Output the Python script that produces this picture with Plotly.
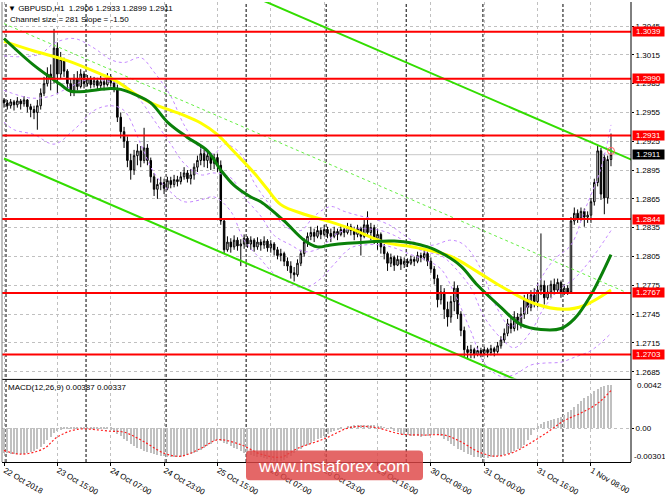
import plotly.graph_objects as go

W, H = 665, 499
ML, MR, MT, MB = 2, 34, 2, 18
PW = W - ML - MR
PH = H - MT - MB


def pxx(px):
    return (px - ML) / PW


def pxy(py):
    return (H - MB - py) / PH


FONT = "Liberation Sans"

# ---------------- candles (price x 10000) ----------------
closes = [12965, 12962, 12966, 12963, 12967, 12964, 12968, 12961, 12958, 12955,
          12962, 12975, 12985, 12995, 12990, 13022, 12995, 13010, 12998, 12985,
          12978, 12990, 12982, 12995, 12985, 12990, 12984, 12988, 12983, 12987,
          12984, 12992, 12986, 12980, 12950, 12935, 12925, 12905, 12895, 12910,
          12915, 12905, 12918, 12905, 12888, 12875, 12880, 12882, 12876, 12884,
          12880, 12885, 12883, 12888, 12892, 12886, 12890, 12898, 12905, 12912,
          12905, 12910, 12902, 12908, 12900, 12842, 12812, 12820, 12815, 12822,
          12816, 12818, 12824, 12818, 12822, 12815, 12820, 12817, 12821, 12814,
          12818, 12812, 12806, 12808, 12800, 12795, 12788, 12786, 12798, 12808,
          12820, 12826, 12830, 12826, 12832, 12828, 12833, 12829, 12826, 12831,
          12828, 12833, 12830, 12836, 12832, 12828, 12834, 12826, 12838, 12830,
          12835, 12824, 12828, 12815, 12808, 12798, 12804, 12796, 12802, 12797,
          12800, 12798, 12802, 12800, 12806, 12804, 12808, 12800, 12792, 12782,
          12760, 12768, 12750, 12742, 12758, 12772, 12745, 12728, 12708, 12705,
          12708, 12703, 12707, 12704, 12708, 12705, 12709, 12706, 12712, 12718,
          12725, 12735, 12730, 12742, 12735, 12745, 12760, 12752, 12765, 12758,
          12770, 12775, 12762, 12768, 12776, 12770, 12778, 12768, 12772, 12768,
          12842, 12850, 12845, 12852, 12846, 12848, 12862, 12882, 12915, 12870,
          12866, 12906, 12911]
highs = [12970, 12968, 12969, 12968, 12971, 12969, 12972, 12969, 12964, 12962,
         12968, 12980, 12992, 13002, 13005, 13042, 13028, 13018, 13012, 13000,
         12990, 12995, 12998, 13000, 12998, 12994, 12993, 12992, 12991, 12993,
         12990, 12996, 12995, 12990, 12984, 12955, 12940, 12930, 12912, 12916,
         12922, 12920, 12939, 12922, 12908, 12892, 12886, 12888, 12886, 12888,
         12888, 12890, 12889, 12893, 12898, 12895, 12896, 12902, 12910, 12920,
         12916, 12915, 12913, 12912, 12912, 12905, 12845, 12826, 12824, 12827,
         12825, 12823, 12828, 12826, 12826, 12824, 12825, 12823, 12826, 12823,
         12822, 12820, 12815, 12813, 12810, 12804, 12800, 12794, 12802, 12812,
         12824, 12830, 12836, 12834, 12837, 12835, 12838, 12836, 12834, 12836,
         12834, 12838, 12837, 12840, 12839, 12836, 12838, 12836, 12844, 12852,
         12840, 12838, 12834, 12830, 12818, 12810, 12808, 12806, 12806, 12805,
         12804, 12803, 12806, 12805, 12810, 12809, 12812, 12810, 12804, 12795,
         12786, 12775, 12772, 12758, 12764, 12779, 12775, 12748, 12732, 12712,
         12713, 12710, 12712, 12710, 12711, 12710, 12713, 12711, 12716, 12722,
         12730, 12740, 12742, 12748, 12746, 12752, 12765, 12768, 12770, 12772,
         12778, 12829, 12780, 12775, 12780, 12782, 12782, 12780, 12776, 12775,
         12846, 12856, 12854, 12856, 12855, 12852, 12866, 12886, 12920, 12918,
         12912, 12910, 12933]
lows = [12960, 12958, 12959, 12957, 12960, 12958, 12961, 12955, 12950, 12948,
        12937, 12958, 12972, 12982, 12978, 12985, 12975, 12990, 12992, 12978,
        12972, 12972, 12978, 12980, 12980, 12982, 12980, 12981, 12979, 12980,
        12978, 12982, 12982, 12976, 12945, 12928, 12918, 12898, 12885, 12890,
        12900, 12898, 12902, 12900, 12882, 12868, 12865, 12874, 12870, 12874,
        12876, 12877, 12878, 12880, 12885, 12882, 12880, 12885, 12893, 12900,
        12898, 12897, 12895, 12896, 12893, 12838, 12808, 12810, 12809, 12812,
        12811, 12795, 12813, 12814, 12812, 12810, 12812, 12811, 12813, 12810,
        12809, 12806, 12802, 12800, 12795, 12790, 12782, 12779, 12784, 12795,
        12805, 12815, 12822, 12820, 12824, 12823, 12826, 12824, 12820, 12824,
        12822, 12826, 12825, 12828, 12827, 12822, 12825, 12806, 12824, 12826,
        12822, 12818, 12812, 12808, 12802, 12790, 12794, 12790, 12795, 12791,
        12793, 12794, 12796, 12795, 12798, 12799, 12801, 12795, 12788, 12776,
        12752, 12755, 12740, 12732, 12736, 12748, 12740, 12722, 12700, 12698,
        12699, 12699, 12701, 12700, 12702, 12700, 12702, 12701, 12704, 12709,
        12715, 12722, 12725, 12727, 12728, 12730, 12740, 12745, 12748, 12752,
        12752, 12765, 12755, 12760, 12762, 12765, 12766, 12762, 12765, 12765,
        12766, 12838, 12840, 12842, 12836, 12840, 12840, 12858, 12878, 12864,
        12849, 12860, 12899]
first_open = 12968
open_gaps = {180: 12908}

# ---------------- indicator lines (read points: bar, price x 10000) ----------------
ma_green_bar = [0, 9, 17, 20, 32, 35, 39, 44, 49, 55, 61, 65, 69, 74, 77, 84, 90, 94,
                98, 109, 117, 127, 132, 137, 142, 149, 155, 161, 167, 171, 176, 182]
ma_green_val = [13032, 13004, 12984, 12977, 12980, 12979, 12974, 12965, 12945, 12929,
                12915, 12895, 12879, 12867, 12862, 12842, 12822, 12815, 12817, 12820,
                12821, 12815, 12807, 12795, 12775, 12752, 12734, 12729, 12730, 12740,
                12765, 12807]
ma_yellow_bar = [0, 9, 19, 29, 34, 39, 44, 54, 59, 64, 69, 75, 79, 83, 90, 97, 104,
                 114, 124, 134, 142, 149, 159, 168, 174, 182]
ma_yellow_val = [13029, 13019, 13009, 12995, 12987, 12975, 12965, 12952, 12944, 12932,
                 12914, 12892, 12875, 12859, 12849, 12842, 12834, 12820, 12814, 12805,
                 12789, 12774, 12756, 12750, 12754, 12770]

bb_mid_bar = [0, 8, 14, 20, 26, 32, 36, 41, 45, 50, 54, 59, 63, 68, 72, 77, 81, 86, 90,
              95, 99, 104, 108, 113, 117, 122, 126, 131, 135, 140, 144, 149, 153, 158,
              162, 167, 171, 176, 182]
bb_mid_val = [12978, 12970, 12972, 12982, 12990, 12987, 12984, 12967, 12947, 12922,
              12902, 12890, 12892, 12887, 12867, 12847, 12827, 12817, 12810, 12814,
              12827, 12834, 12834, 12832, 12827, 12817, 12810, 12806, 12794, 12772,
              12742, 12720, 12710, 12727, 12752, 12772, 12782, 12802, 12832]
bb_up_bar = [0, 5, 11, 15, 21, 27, 32, 36, 41, 45, 50, 54, 59, 63, 66, 71, 75, 80, 84,
             89, 93, 98, 102, 107, 111, 116, 120, 125, 129, 134, 138, 143, 147, 152,
             156, 161, 165, 170, 174, 179, 182]
bb_up_val = [13014, 13013, 13016, 13027, 13032, 13022, 13010, 13007, 13012, 12997,
             12972, 12942, 12917, 12912, 12922, 12912, 12882, 12857, 12837, 12832,
             12847, 12857, 12852, 12847, 12844, 12837, 12827, 12817, 12817, 12822,
             12817, 12792, 12757, 12732, 12747, 12782, 12802, 12817, 12852, 12897,
             12942]
bb_lo_bar = [0, 3, 9, 15, 21, 27, 32, 36, 41, 45, 50, 54, 59, 63, 68, 72, 77, 81, 86,
             90, 95, 99, 104, 108, 113, 117, 122, 126, 131, 135, 140, 144, 149, 153,
             158, 162, 167, 171, 176, 182]
bb_lo_val = [12945, 12937, 12932, 12922, 12937, 12957, 12962, 12957, 12922, 12892,
             12872, 12862, 12864, 12867, 12852, 12822, 12802, 12787, 12777, 12772,
             12782, 12797, 12814, 12817, 12817, 12814, 12807, 12802, 12792, 12767,
             12727, 12694, 12680, 12682, 12692, 12694, 12695, 12700, 12707, 12725]

# linear regression channel: lower line value at bar 0, slope per bar, width (pips)
chan_lower_start = 12907
chan_slope = -1.50
chan_size = 281
chan_end_bar = 189

# horizontal levels
red_levels = [1.3039, 1.2990, 1.2931, 1.2844, 1.2767, 1.2703]
last_price = 1.2911
price_ticks = [1.3045, 1.3015, 1.2985, 1.2955, 1.2925, 1.2895, 1.2865, 1.2835,
               1.2805, 1.2775, 1.2745, 1.2715, 1.2685]

# time axis
time_tick_bars = [0, 16, 32, 48, 64, 80, 96, 112, 128, 144, 160, 176]
time_tick_text = ["22 Oct 2018", "23 Oct 15:00", "24 Oct 07:00", "24 Oct 23:00",
                  "25 Oct 15:00", "26 Oct 07:00", "26 Oct 23:00", "29 Oct 16:00",
                  "30 Oct 08:00", "31 Oct 00:00", "31 Oct 16:00", "1 Nov 08:00"]
day_start_bars = [1, 25, 49, 73, 97, 121, 144, 168]

# MACD (x 1e-5)
macd_hist = [-223, -226, -228, -230, -231, -231, -228, -224, -218, -206,
             -190, -170, -140, -110, -80, -45, -25, -15, -10,
             -8, -6, -5, -6, -8, -9, -10, -9, -8, -9, -10, -11, -12, -14,
             -30, -51, -75, -100, -120, -140, -160, -175, -190, -205,
             -215, -225, -235, -242, -249, -252, -255, -257,
             -258, -257, -255, -250, -245, -235, -225, -215,
             -195, -180, -160, -140, -120, -103,
             -115, -130, -146, -160, -175, -190, -206,
             -220, -232, -242, -249, -255, -262, -270, -278, -286, -294, -301,
             -295, -285, -270, -250, -225, -206,
             -185, -165, -148, -132, -120,
             -100, -85, -70, -51,
             -40, -28, -18, -9,
             0, 10, 18, 24,
             26, 28, 28, 27, 26, 24, 20, 15,
             8, 0, -10, -25, -40, -55,
             -62, -66, -70, -73, -76, -77, -75, -70,
             -62, -58, -60,
             -75, -95, -120, -145, -165,
             -185, -200, -215, -231, -245,
             -255, -262, -265, -266, -265,
             -262, -258, -254, -250, -245,
             -235, -220, -205, -190, -180,
             -150, -110, -60, -20, 15,
             35, 50, 62, 70, 77, 90,
             100, 120, 140, 163, 185,
             215, 240, 270, 290, 305, 330, 350, 365, 378, 385, 387]
signal_bar = [0, 5, 12, 16, 22, 32, 36, 42, 48, 53, 59, 64, 71, 77, 83, 88, 96, 104,
              111, 119, 126, 132, 137, 142, 147, 152, 157, 163, 168, 173, 178, 182]
signal_val = [-197, -231, -180, -77, -9, -26, -34, -120, -223, -249, -180, -103, -146,
              -231, -257, -180, -94, 9, 9, -51, -60, -60, -120, -206, -249, -223, -146,
              -34, 69, 137, 223, 337]
macd_max = 0.0042
macd_min = -0.00301

# ---------------- build ----------------
n = len(closes)
bars = list(range(n))
opens = [first_open] + closes[:-1]
for k, v in open_gaps.items():
    opens[k] = v
o = [v / 1e4 for v in opens]
c = [v / 1e4 for v in closes]
h = [max(a, b, d) / 1e4 for a, b, d in zip(highs, opens, closes)]
l = [min(a, b, d) / 1e4 for a, b, d in zip(lows, opens, closes)]

fig = go.Figure()

fig.add_trace(go.Candlestick(
    x=bars, open=o, high=h, low=l, close=c,
    increasing=dict(line=dict(color="black", width=1), fillcolor="white"),
    decreasing=dict(line=dict(color="black", width=1), fillcolor="black"),
    whiskerwidth=0, hoverinfo="skip", xaxis="x", yaxis="y"))

violet = "#c488ff"
for bx, bv in [(bb_up_bar, bb_up_val), (bb_mid_bar, bb_mid_val), (bb_lo_bar, bb_lo_val)]:
    fig.add_trace(go.Scatter(x=bx, y=[v / 1e4 for v in bv], mode="lines",
                             line=dict(color=violet, width=1, dash="3px,3px", shape="spline"),
                             hoverinfo="skip", xaxis="x", yaxis="y"))

fig.add_trace(go.Scatter(x=ma_yellow_bar, y=[v / 1e4 for v in ma_yellow_val], mode="lines",
                         line=dict(color="#ffff00", width=3, shape="spline"),
                         hoverinfo="skip", xaxis="x", yaxis="y"))
fig.add_trace(go.Scatter(x=ma_green_bar, y=[v / 1e4 for v in ma_green_val], mode="lines",
                         line=dict(color="#0a800a", width=3, shape="spline"),
                         hoverinfo="skip", xaxis="x", yaxis="y"))

lime = "#33dd00"
xs = [0, chan_end_bar]
low_line = [(chan_lower_start + chan_slope * b) / 1e4 for b in xs]
mid_line = [(chan_lower_start + chan_size / 2 + chan_slope * b) / 1e4 for b in xs]
up_line = [(chan_lower_start + chan_size + chan_slope * b) / 1e4 for b in xs]
fig.add_trace(go.Scatter(x=xs, y=up_line, mode="lines", line=dict(color=lime, width=2),
                         hoverinfo="skip", xaxis="x", yaxis="y"))
fig.add_trace(go.Scatter(x=xs, y=low_line, mode="lines", line=dict(color=lime, width=2),
                         hoverinfo="skip", xaxis="x", yaxis="y"))
fig.add_trace(go.Scatter(x=xs, y=mid_line, mode="lines",
                         line=dict(color="#66ee44", width=1, dash="3px,3px"),
                         hoverinfo="skip", xaxis="x", yaxis="y"))

# alert circle at last bar
fig.add_trace(go.Scatter(x=[bars[-1]], y=[(closes[-1] + 4) / 1e4], mode="markers",
                         marker=dict(symbol="circle-open", size=7, color="#ff6060",
                                     line=dict(width=1)),
                         hoverinfo="skip", xaxis="x", yaxis="y"))

# MACD
fig.add_trace(go.Bar(x=bars, y=[v / 1e5 for v in macd_hist], marker=dict(color="#c0c0c0", line=dict(width=0)),
                     width=0.6, hoverinfo="skip", xaxis="x2", yaxis="y2"))
fig.add_trace(go.Scatter(x=signal_bar, y=[v / 1e5 for v in signal_val], mode="lines",
                         line=dict(color="#ff2020", width=1.2, dash="2px,2px", shape="spline"),
                         hoverinfo="skip", xaxis="x2", yaxis="y2"))

shapes = []
for lv in red_levels:
    shapes.append(dict(type="line", xref="paper", yref="y", x0=0, x1=1, y0=lv, y1=lv,
                       line=dict(color="#ff0000", width=2), layer="above"))
shapes.append(dict(type="line", xref="paper", yref="y", x0=0, x1=1, y0=last_price, y1=last_price,
                   line=dict(color="#c8c8c8", width=1), layer="below"))
for b in day_start_bars:
    shapes.append(dict(type="line", xref="x", yref="paper", x0=b - 0.4, x1=b - 0.4, y0=0, y1=1,
                       line=dict(color="#000000", width=1, dash="3px,2px"), layer="below"))
# pane borders
shapes.append(dict(type="line", xref="paper", yref="paper", x0=0, x1=1, y0=pxy(395), y1=pxy(395),
                   line=dict(color="black", width=1)))
shapes.append(dict(type="line", xref="paper", yref="paper", x0=1, x1=1, y0=0, y1=1,
                   line=dict(color="black", width=1)))
shapes.append(dict(type="line", xref="paper", yref="paper", x0=0, x1=0, y0=0, y1=1,
                   line=dict(color="#808080", width=1)))
# watermark box (rounded corners)
x0, x1, y0, y1 = pxx(246), pxx(423), pxy(500), pxy(469)
rx, ry = 4 / PW, 4 / PH
wm_path = (f"M {x0 + rx},{y1} L {x1 - rx},{y1} Q {x1},{y1} {x1},{y1 - ry} "
           f"L {x1},{y0 + ry} Q {x1},{y0} {x1 - rx},{y0} L {x0 + rx},{y0} "
           f"Q {x0},{y0} {x0},{y0 + ry} L {x0},{y1 - ry} Q {x0},{y1} {x0 + rx},{y1} Z")
shapes.append(dict(type="path", xref="paper", yref="paper", path=wm_path,
                   fillcolor="rgba(222,70,70,0.82)", line=dict(width=0), layer="above"))

ann = []
for lv in red_levels:
    ann.append(dict(x=1, xref="paper", y=lv, yref="y", xanchor="left", yanchor="middle",
                    xshift=1, text=f"{lv:.4f}", showarrow=False, bgcolor="#ff0000",
                    font=dict(family=FONT, size=8, color="white"), width=31, height=9,
                    align="center", borderpad=0))
ann.append(dict(x=1, xref="paper", y=last_price, yref="y", xanchor="left", yanchor="middle",
                xshift=1, text=f"{last_price:.4f}", showarrow=False, bgcolor="#000000",
                font=dict(family=FONT, size=8, color="white"), width=31, height=9,
                align="center", borderpad=0))
ann.append(dict(x=pxx(6), xref="paper", y=pxy(9), yref="paper", xanchor="left", yanchor="middle",
                text="▼ GBPUSD,H1  1.2906 1.2933 1.2899 1.2911", showarrow=False,
                font=dict(family=FONT, size=8, color="black")))
ann.append(dict(x=pxx(8), xref="paper", y=pxy(20), yref="paper", xanchor="left", yanchor="middle",
                text="Channel size = 281 Slope = -1.50", showarrow=False,
                font=dict(family=FONT, size=8, color="black")))
ann.append(dict(x=pxx(6), xref="paper", y=pxy(403), yref="paper", xanchor="left", yanchor="middle",
                text="MACD(12,26,9) 0.00387 0.00337", showarrow=False,
                font=dict(family=FONT, size=8, color="black")))
ann.append(dict(x=1, xref="paper", y=pxy(401), yref="paper", xanchor="left", yanchor="middle",
                xshift=4, text=f"{macd_max:.4f}", showarrow=False,
                font=dict(family=FONT, size=8, color="black")))
ann.append(dict(x=1, xref="paper", y=pxy(475), yref="paper", xanchor="left", yanchor="middle",
                xshift=1, text=f"{macd_min:.5f}", showarrow=False,
                font=dict(family=FONT, size=8, color="black")))
ann.append(dict(x=pxx(334), xref="paper", y=pxy(486), yref="paper", xanchor="center", yanchor="middle",
                text="www.instaforex.com", showarrow=False,
                font=dict(family=FONT, size=17, color="white")))

grid = dict(showgrid=True, gridcolor="#c0c0c0", gridwidth=1, griddash="3px,3px")
xr = [-0.6, 188.0]
fig.update_layout(
    width=W, height=H, margin=dict(l=ML, r=MR, t=MT, b=MB),
    paper_bgcolor="white", plot_bgcolor="white", showlegend=False,
    font=dict(family=FONT, size=8, color="black"),
    xaxis=dict(domain=[0, 1], range=xr, anchor="y", tickvals=time_tick_bars,
               showticklabels=False, ticks="", zeroline=False, rangeslider=dict(visible=False),
               showline=False, **grid),
    xaxis2=dict(domain=[0, 1], range=xr, anchor="y2", matches="x", tickvals=time_tick_bars,
                ticktext=time_tick_text, ticks="outside", ticklen=3, tickcolor="black",
                ticklabelposition="outside right", zeroline=False, showline=True,
                linecolor="black", tickfont=dict(family=FONT, size=8, color="black"), **grid),
    yaxis=dict(domain=[pxy(394), 1], range=[1.2678, 1.3070], side="right", anchor="x",
               tickvals=price_ticks, ticktext=[f"{v:.4f}" for v in price_ticks],
               ticks="outside", ticklen=2, tickcolor="black", zeroline=False,
               tickfont=dict(family=FONT, size=8, color="black"), **grid),
    yaxis2=dict(domain=[0, pxy(397)], range=[macd_min, macd_max], side="right", anchor="x2",
                tickvals=[0.0], ticktext=["0.00"], ticks="outside", ticklen=2, tickcolor="black",
                zeroline=False, tickfont=dict(family=FONT, size=8, color="black"), **grid),
    shapes=shapes, annotations=ann, bargap=0, boxgap=0.35,
)

fig.write_html("out.html", config={"displayModeBar": False},
               post_script="document.body.style.margin='0';document.body.style.overflow='hidden';")
